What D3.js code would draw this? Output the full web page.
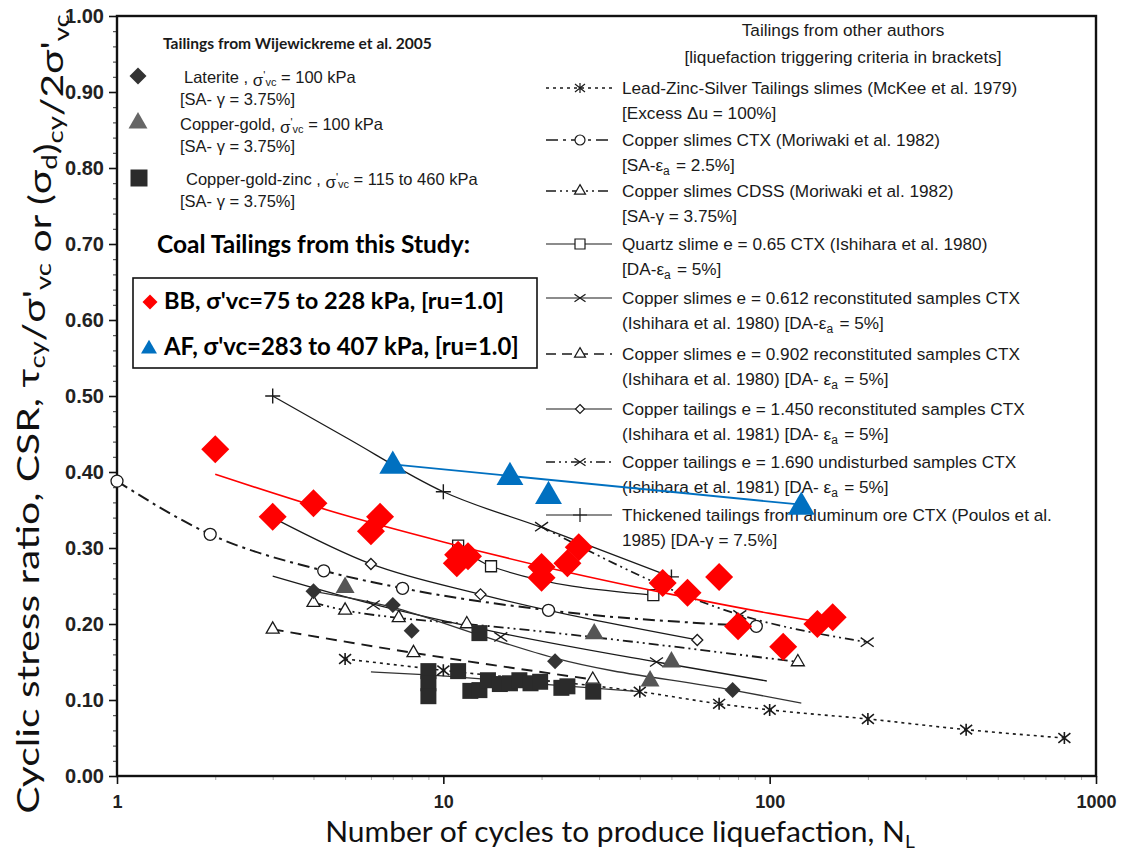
<!DOCTYPE html>
<html><head><meta charset="utf-8">
<script src="https://cdn.jsdelivr.net/npm/d3@7"></script>
<style>
body{margin:0;background:#fff;}
svg{display:block;}
</style></head>
<body>
<svg id="chart" width="1125" height="854"></svg>
<script>
// ---------------- DATA ----------------
const xTickValues = [1, 10, 100, 1000];
const xTickLabels = ["1", "10", "100", "1000"];
const yTickValues = [0, 0.1, 0.2, 0.3, 0.4, 0.5, 0.6, 0.7, 0.8, 0.9, 1.0];
const yTickLabels = ["0.00","0.10","0.20","0.30","0.40","0.50","0.60","0.70","0.80","0.90","1.00"];

// Coal tailings (this study)
const bbN   = [2, 3, 4, 6, 6.4, 11, 11.1, 11.9, 20, 20, 24, 26, 47, 56, 70, 80, 110, 140, 156];
const bbCSR = [0.43, 0.341, 0.359, 0.322, 0.341, 0.280, 0.291, 0.289, 0.275, 0.261, 0.280, 0.301, 0.254, 0.241, 0.262, 0.197, 0.170, 0.200, 0.209];
const bbFitN   = [2, 5, 10, 20, 50, 100, 140];
const bbFitCSR = [0.397, 0.343, 0.308, 0.276, 0.239, 0.214, 0.203];
const afN   = [7, 16, 21, 125];
const afCSR = [0.408, 0.393, 0.368, 0.354];
const afFitN   = [7, 125];
const afFitCSR = [0.410, 0.357];

// Wijewickreme et al. 2005
const latN   = [4, 7, 8, 22, 77];
const latCSR = [0.243, 0.225, 0.191, 0.151, 0.113];
const cgN    = [5, 29, 43, 50];
const cgCSR  = [0.248, 0.187, 0.125, 0.150];
const cgzN   = [9, 9, 9, 11.1, 12.9, 12.1, 12.9, 13.7, 14.9, 16, 17.1, 18.5, 19.8, 23, 24, 28.8];
const cgzCSR = [0.138, 0.122, 0.105, 0.138, 0.188, 0.112, 0.113, 0.126, 0.121, 0.122, 0.126, 0.122, 0.124, 0.116, 0.118, 0.111];

// Tailings from other authors
const mckeeN   = [5, 10, 40, 70, 100, 200, 400, 800];
const mckeeCSR = [0.154, 0.139, 0.111, 0.095, 0.087, 0.075, 0.061, 0.050];
const moriCtxN   = [1, 1.93, 4.3, 7.5, 21, 91];
const moriCtxCSR = [0.388, 0.318, 0.270, 0.247, 0.218, 0.197];
const moriCdssN   = [4, 5, 7.3, 11.8, 122];
const moriCdssCSR = [0.228, 0.218, 0.208, 0.200, 0.150];
const quartzN   = [11.1, 14, 44];
const quartzCSR = [0.303, 0.276, 0.238];
const cs612LineN   = [3, 6.1, 15, 45, 98];
const cs612LineCSR = [0.263, 0.226, 0.188, 0.150, 0.125];
const cs612N   = [6.1, 15, 45];
const cs612CSR = [0.225, 0.183, 0.150];
const cs902N   = [3, 8.1, 28.7];
const cs902CSR = [0.193, 0.162, 0.127];
const ct1450N   = [3, 6, 13, 60];
const ct1450CSR = [0.340, 0.279, 0.239, 0.179];
const ct1690N   = [20, 81, 199];
const ct1690CSR = [0.328, 0.212, 0.176];
const poulosLineN   = [3, 5, 10, 20, 50];
const poulosLineCSR = [0.500, 0.446, 0.374, 0.327, 0.262];
const poulosN   = [3, 10, 50];
const poulosCSR = [0.500, 0.374, 0.262];
// unmarked trend lines
const latTrendN   = [4, 7, 13, 22, 77, 125];
const latTrendCSR = [0.243, 0.222, 0.185, 0.155, 0.113, 0.096];
const cgzTrendN   = [6, 9, 20, 40];
const cgzTrendCSR = [0.137, 0.133, 0.121, 0.111];

// Legend texts
const leftLegendTitle = "Tailings from Wijewickreme et al. 2005";
const coalTitle = "Coal Tailings from this Study:";
const rightLegendTitle1 = "Tailings from other authors";
const rightLegendTitle2 = "[liquefaction triggering criteria in brackets]";

// ---------------- CHART ----------------
const svg = d3.select("#chart");
const L = 117, R = 1096, T = 16, B = 776;
const x = d3.scaleLog().domain([1, 1000]).range([L, R]);
const y = d3.scaleLinear().domain([0, 1]).range([B, T]);
const zip = (a, b) => a.map((v, i) => [v, b[i]]);

const narrow = "'Liberation Sans Narrow','Arial Narrow','Liberation Sans',sans-serif";
const calibri = "Lato, 'Open Sans', sans-serif";

// scale font so that a text element spans a target width
function fitWidth(t, target) {
  const fs = parseFloat(t.attr("font-size"));
  const w = t.node().getComputedTextLength();
  if (w > 0) t.attr("font-size", (fs * target / w).toFixed(2));
  return t;
}

// minor ticks
const yMinor = d3.range(0, 1.0001, 0.02).filter(v => Math.abs(Math.round(v*10) - v*10) > 1e-6);
svg.append("g").attr("transform", `translate(${L},0)`)
  .call(d3.axisLeft(y).tickValues(yMinor).tickSize(4).tickFormat(""))
  .call(g => g.select(".domain").remove())
  .selectAll("line").attr("stroke", "#333").attr("stroke-width", 1);
const xMinor = [];
[1, 10, 100].forEach(d => { for (let k = 2; k <= 9; k++) xMinor.push(d * k); });
svg.append("g").attr("transform", `translate(0,${B})`)
  .call(d3.axisBottom(x).tickValues(xMinor).tickSize(4).tickFormat(""))
  .call(g => g.select(".domain").remove())
  .selectAll("line").attr("stroke", "#aaa").attr("stroke-width", 1);

// major axes
const yAxis = svg.append("g").attr("transform", `translate(${L},0)`)
  .call(d3.axisLeft(y).tickValues(yTickValues).tickSize(8).tickPadding(5)
    .tickFormat((d, i) => yTickLabels[i]));
yAxis.select(".domain").remove();
yAxis.selectAll("line").attr("stroke", "#111").attr("stroke-width", 1.6);
yAxis.selectAll("text").attr("font-family", "'Liberation Sans',Arial,sans-serif")
  .attr("font-weight", "bold").attr("font-size", 20).attr("fill", "#222");

const xAxis = svg.append("g").attr("transform", `translate(0,${B})`)
  .call(d3.axisBottom(x).tickValues(xTickValues).tickSize(8).tickPadding(11)
    .tickFormat((d, i) => xTickLabels[i]));
xAxis.select(".domain").remove();
xAxis.selectAll("line").attr("stroke", "#111").attr("stroke-width", 1.6);
xAxis.selectAll("text").attr("font-family", "'Liberation Sans',Arial,sans-serif")
  .attr("font-weight", "bold").attr("font-size", 18).attr("fill", "#222");

// frame
svg.append("rect").attr("x", L).attr("y", T).attr("width", R - L).attr("height", B - T)
  .attr("fill", "none").attr("stroke", "#111").attr("stroke-width", 2.4);

// ---------- line generator ----------
const lineGen = d3.line().x(d => x(d[0])).y(d => y(d[1])).curve(d3.curveMonotoneX);

function drawLine(N, C, opts) {
  svg.append("path").datum(zip(N, C)).attr("d", lineGen)
    .attr("fill", "none").attr("stroke", opts.color || "#222")
    .attr("stroke-width", opts.width || 1.3)
    .attr("stroke-dasharray", opts.dash || null);
}

// marker path strings (centered at 0,0)
function markerPath(type, s) {
  const h = s / 2;
  switch (type) {
    case "circle": return d3.symbol(d3.symbolCircle, Math.PI * h * h)();
    case "triangle": return d3.symbol(d3.symbolTriangle, s * s * 0.43)();
    case "square": return `M${-h},${-h}H${h}V${h}H${-h}Z`;
    case "diamond": return `M0,${-h}L${h},0L0,${h}L${-h},0Z`;
    case "x": return `M${-h},${-h * 0.7}L${h},${h * 0.7}M${-h},${h * 0.7}L${h},${-h * 0.7}`;
    case "asterisk": return `M${-h},${-h * 0.8}L${h},${h * 0.8}M${-h},${h * 0.8}L${h},${-h * 0.8}M0,${-h}L0,${h}`;
    case "plus": return `M${-h},0L${h},0M0,${-h}L0,${h}`;
  }
}
function drawMarkers(N, C, type, opts) {
  svg.append("g").selectAll("path").data(zip(N, C)).join("path")
    .attr("transform", d => `translate(${x(d[0])},${y(d[1])})`)
    .attr("d", markerPath(type, opts.size))
    .attr("fill", opts.fill || "none")
    .attr("stroke", opts.stroke || "none")
    .attr("stroke-width", opts.sw || 1.2);
}

// ---------- other authors ----------
const dk = "#1a1a1a";
drawLine(mckeeN, mckeeCSR, { dash: "3,4", width: 1.6, color: dk });
drawLine(moriCtxN, moriCtxCSR, { dash: "12,5,3,5", width: 2, color: dk });
drawLine(moriCdssN, moriCdssCSR, { dash: "10,4,2,4,2,4", width: 1.8, color: dk });
drawLine(quartzN, quartzCSR, { width: 1.3, color: dk });
drawLine(cs612LineN, cs612LineCSR, { width: 1.3, color: dk });
drawLine(cs902N, cs902CSR, { dash: "11,7", width: 1.9, color: dk });
drawLine(ct1450N, ct1450CSR, { width: 1.3, color: dk });
drawLine(ct1690N, ct1690CSR, { dash: "9,4,2,4,2,4", width: 1.7, color: dk });
drawLine(poulosLineN, poulosLineCSR, { width: 1.3, color: dk });
drawLine(latTrendN, latTrendCSR, { width: 1.3, color: "#333" });
drawLine(cgzTrendN, cgzTrendCSR, { width: 1.3, color: "#333" });

drawMarkers(mckeeN, mckeeCSR, "asterisk", { size: 12, stroke: dk, sw: 1.6 });
drawMarkers(moriCtxN, moriCtxCSR, "circle", { size: 12, fill: "#fff", stroke: dk, sw: 1.3 });
drawMarkers(moriCdssN, moriCdssCSR, "triangle", { size: 13, fill: "#fff", stroke: dk, sw: 1.3 });
drawMarkers(quartzN, quartzCSR, "square", { size: 11, fill: "#fff", stroke: dk, sw: 1.3 });
drawMarkers(cs612N, cs612CSR, "x", { size: 13, stroke: dk, sw: 1.4 });
drawMarkers(cs902N, cs902CSR, "triangle", { size: 13, fill: "#fff", stroke: dk, sw: 1.3 });
drawMarkers(ct1450N, ct1450CSR, "diamond", { size: 11, fill: "#fff", stroke: dk, sw: 1.3 });
drawMarkers(ct1690N, ct1690CSR, "x", { size: 13, stroke: dk, sw: 1.4 });
drawMarkers(poulosN, poulosCSR, "plus", { size: 15, stroke: dk, sw: 1.4 });

// ---------- Wijewickreme ----------
drawMarkers(latN, latCSR, "diamond", { size: 16, fill: "#333" });
drawMarkers(cgN, cgCSR, "triangle", { size: 19, fill: "#555" });
drawMarkers(cgzN, cgzCSR, "square", { size: 16, fill: "#2b2b2b" });

// ---------- Right legend (other authors) ----------
const rl = svg.append("g").attr("font-family", narrow).attr("font-size", 17.2).attr("fill", "#1a1a1a");
rl.append("text").attr("x", 843).attr("y", 36).attr("text-anchor", "middle").text(rightLegendTitle1);
rl.append("text").attr("x", 843).attr("y", 63).attr("text-anchor", "middle").text(rightLegendTitle2);

function richLine(g, xx, yy, parts) {
  const t = g.append("text").attr("x", xx).attr("y", yy);
  parts.forEach(p => {
    if (typeof p === "string") t.append("tspan").text(p);
    else if (p.sub) {
      t.append("tspan").attr("dy", 4).attr("font-size", "0.7em").text(p.sub);
      t.append("tspan").attr("dy", -4).text("\u200A");
    }
  });
  return t;
}

const rightEntries = [
  { y: 88, marker: "asterisk", dash: "3,4", w: 1.5, fill: "none", ms: 10,
    l1: ["Lead-Zinc-Silver Tailings slimes (McKee et al. 1979)"], l2: ["[Excess  \u0394u = 100%]"] },
  { y: 140, marker: "circle", dash: "12,5,3,5", w: 1.6, fill: "#fff", ms: 10,
    l1: ["Copper slimes CTX (Moriwaki et al. 1982)"], l2: ["[SA-\u03B5", { sub: "a" }, " = 2.5%]"] },
  { y: 191, marker: "triangle", dash: "10,4,2,4,2,4", w: 1.6, fill: "#fff", ms: 11,
    l1: ["Copper slimes CDSS (Moriwaki et al. 1982)"], l2: ["[SA-\u03B3 = 3.75%]"] },
  { y: 244, marker: "square", dash: null, w: 1.2, fill: "#fff", ms: 10,
    l1: ["Quartz slime e = 0.65 CTX (Ishihara et al. 1980)"], l2: ["[DA-\u03B5", { sub: "a" }, " = 5%]"] },
  { y: 298, marker: "x", dash: null, w: 1.2, fill: "none", ms: 11,
    l1: ["Copper slimes e = 0.612 reconstituted samples CTX"], l2: ["(Ishihara et al. 1980)    [DA-\u03B5", { sub: "a" }, " = 5%]"] },
  { y: 354, marker: "triangle", dash: "10,6", w: 1.6, fill: "#fff", ms: 11,
    l1: ["Copper slimes e = 0.902 reconstituted samples CTX"], l2: ["(Ishihara et al. 1980)    [DA- \u03B5", { sub: "a" }, " = 5%]"] },
  { y: 409, marker: "diamond", dash: null, w: 1.2, fill: "#fff", ms: 9,
    l1: ["Copper tailings e = 1.450 reconstituted samples CTX"], l2: ["(Ishihara et al. 1981)    [DA- \u03B5", { sub: "a" }, " = 5%]"] },
  { y: 462, marker: "x", dash: "9,4,2,4,2,4", w: 1.6, fill: "none", ms: 11,
    l1: ["Copper tailings e = 1.690 undisturbed samples CTX"], l2: ["(Ishihara et al. 1981)    [DA- \u03B5", { sub: "a" }, " = 5%]"] },
  { y: 515, marker: "plus", dash: null, w: 1.2, fill: "none", ms: 14,
    l1: ["Thickened tailings from aluminum ore CTX (Poulos et al."], l2: ["1985)   [DA-\u03B3 = 7.5%]"] }
];
rightEntries.forEach(e => {
  rl.append("line").attr("x1", 546).attr("x2", 612).attr("y1", e.y).attr("y2", e.y)
    .attr("stroke", "#1a1a1a").attr("stroke-width", e.w).attr("stroke-dasharray", e.dash);
  rl.append("path").attr("transform", `translate(580,${e.y})`).attr("d", markerPath(e.marker, e.ms))
    .attr("fill", e.fill).attr("stroke", "#1a1a1a").attr("stroke-width", 1.2);
  richLine(rl, 622, e.y + 6, e.l1);
  richLine(rl, 622, e.y + 31, e.l2);
});

// ---------- Left legend (Wijewickreme) ----------
const ll = svg.append("g").attr("fill", "#1a1a1a");
fitWidth(ll.append("text").attr("x", 163).attr("y", 49).attr("font-family", calibri).attr("font-weight", "bold")
  .attr("font-size", 15).text(leftLegendTitle), 269);
const lfs = 16.5;
function sigmaLine(g, xx, yy, before, after) {
  const t = g.append("text").attr("x", xx).attr("y", yy).attr("font-family", narrow).attr("font-size", lfs);
  t.append("tspan").text(before);
  t.append("tspan").attr("dy", 3).attr("font-size", 17).text("\u03C3");
  t.append("tspan").attr("dy", -7).attr("font-size", 11).text("'");
  t.append("tspan").attr("dy", 7).attr("font-size", 11).text("vc");
  t.append("tspan").attr("dy", -3).text(after);
}
ll.append("path").attr("transform", "translate(138,76)").attr("d", markerPath("diamond", 17)).attr("fill", "#333");
sigmaLine(ll, 184, 83, "Laterite , ", " = 100 kPa");
ll.append("text").attr("x", 180).attr("y", 105).attr("font-family", narrow).attr("font-size", lfs).text("[SA- \u03B3 = 3.75%]");
ll.append("path").attr("transform", "translate(138,123)").attr("d", markerPath("triangle", 19)).attr("fill", "#666");
sigmaLine(ll, 180, 130, "Copper-gold,  ", " = 100 kPa");
ll.append("text").attr("x", 180).attr("y", 152).attr("font-family", narrow).attr("font-size", lfs).text("[SA- \u03B3 = 3.75%]");
ll.append("path").attr("transform", "translate(139,178)").attr("d", markerPath("square", 17)).attr("fill", "#2b2b2b");
sigmaLine(ll, 186, 185, "Copper-gold-zinc   , ", " = 115 to 460 kPa");
ll.append("text").attr("x", 180).attr("y", 207).attr("font-family", narrow).attr("font-size", lfs).text("[SA- \u03B3 = 3.75%]");

fitWidth(ll.append("text").attr("x", 157).attr("y", 253).attr("font-family", calibri).attr("font-weight", "bold")
  .attr("font-size", 23).attr("fill", "#000").text(coalTitle), 313);

// coal legend box
const box = svg.append("g");
box.append("rect").attr("x", 133).attr("y", 278).attr("width", 404).attr("height", 90)
  .attr("fill", "#fff").attr("stroke", "#111").attr("stroke-width", 1.6);
box.append("path").attr("transform", "translate(150,302)").attr("d", markerPath("diamond", 15)).attr("fill", "#ff0000");
fitWidth(box.append("text").attr("x", 164).attr("y", 309).attr("font-family", calibri).attr("font-weight", "bold")
  .attr("font-size", 21).attr("fill", "#000").text("BB, \u03C3'vc=75 to 228 kPa, [ru=1.0]"), 340);
box.append("path").attr("transform", "translate(149,349)").attr("d", markerPath("triangle", 16)).attr("fill", "#0070c0");
fitWidth(box.append("text").attr("x", 164).attr("y", 355).attr("font-family", calibri).attr("font-weight", "bold")
  .attr("font-size", 21).attr("fill", "#000").text("AF, \u03C3'vc=283 to 407 kPa, [ru=1.0]"), 355);

// ---------- Coal tailings series ----------
drawLine(bbFitN, bbFitCSR, { color: "#ff0000", width: 1.6 });
drawLine(afFitN, afFitCSR, { color: "#0070c0", width: 1.8 });
drawMarkers(bbN, bbCSR, "diamond", { size: 28, fill: "#ff0000" });
drawMarkers(afN, afCSR, "triangle", { size: 27, fill: "#0070c0" });

// ---------- Axis titles ----------
// stretch/compress a text element along its reading direction so it spans a target length
function stretchTo(t, cx, cy, rot, target) {
  const w = t.node().getBBox().width;
  const sx = w > 0 ? target / w : 1;
  t.attr("transform", `translate(${cx},${cy}) rotate(${rot}) scale(${sx.toFixed(3)},1)`);
}
const xt = svg.append("text").attr("x", 0).attr("y", 0).attr("text-anchor", "middle")
  .attr("font-family", calibri).attr("font-size", 28).attr("fill", "#111");
xt.append("tspan").text("Number of cycles to produce liquefaction, N");
xt.append("tspan").attr("dy", 6).attr("font-size", 18).text("L");
stretchTo(xt, 620, 842, 0, 590);

const yt = svg.append("text").attr("x", 0).attr("y", 0).attr("text-anchor", "middle")
  .attr("font-family", calibri).attr("font-size", 31).attr("fill", "#111");
function ytPart(txt, kind) {
  if (kind === "sub") {
    yt.append("tspan").attr("dy", 6).attr("font-size", 21).text(txt);
    yt.append("tspan").attr("dy", -6).text("");
  } else yt.append("tspan").text(txt);
}
ytPart("Cyclic stress ratio, CSR, \u03C4");
ytPart("cy", "sub");
ytPart("/\u03C3'");
ytPart("vc", "sub");
ytPart(" or (\u03C3");
ytPart("d", "sub");
ytPart(")");
ytPart("cy", "sub");
ytPart("/2\u03C3'");
ytPart("vc", "sub");
stretchTo(yt, 39, 414, -90, 800);
</script>
</body></html>
